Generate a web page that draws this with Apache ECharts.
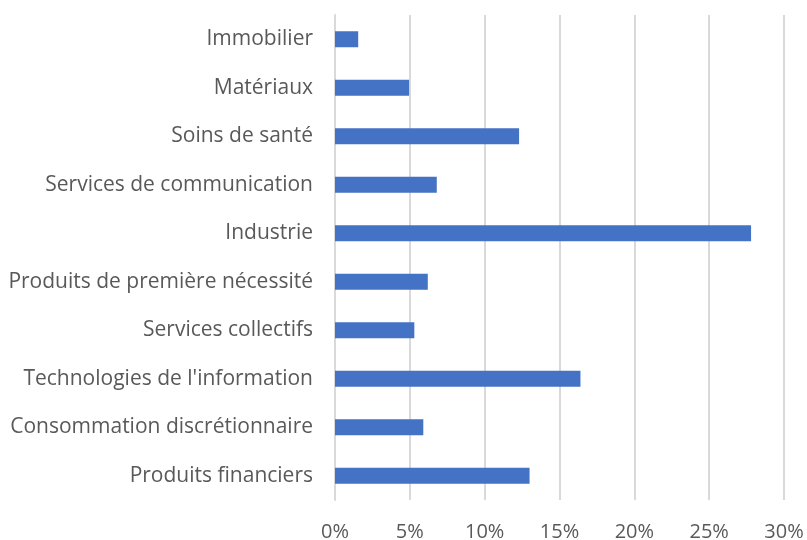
<!DOCTYPE html>
<html>
<head>
<meta charset="utf-8">
<script src="https://cdn.jsdelivr.net/npm/echarts@6/dist/echarts.min.js"></script>
<style>
  html, body { margin: 0; padding: 0; background: #ffffff; }
  #chart { width: 807px; height: 540px; }
</style>
</head>
<body>
<div id="chart"></div>
<script>
// top to bottom as shown in the picture
const sectors = [
  'Immobilier',
  'Matériaux',
  'Soins de santé',
  'Services de communication',
  'Industrie',
  'Produits de première nécessité',
  'Services collectifs',
  "Technologies de l'information",
  'Consommation discrétionnaire',
  'Produits financiers',
];
const weights = [1.55, 4.95, 12.3, 6.8, 27.8, 6.2, 5.3, 16.4, 5.9, 13.0];

const TEXT_COLOR = '#595959';
const GRID_COLOR = '#d9d9d9';
const BAR_COLOR = '#4472C4';
const FONT = 'Open Sans';

const chart = echarts.init(document.getElementById('chart'));

chart.setOption({
  animation: false,
  grid: {
    left: 335,
    right: 23,
    top: 15,
    bottom: 40,
    outerBoundsMode: 'none',
  },
  xAxis: {
    type: 'value',
    min: 0,
    max: 30,
    interval: 5,
    axisLine: { show: false },
    axisTick: { show: false },
    splitLine: { lineStyle: { color: GRID_COLOR, width: 2 } },
    axisLabel: {
      color: TEXT_COLOR,
      fontFamily: FONT,
      fontSize: 20,
      margin: 22,
      formatter: '{value}%',
    },
  },
  yAxis: {
    type: 'category',
    inverse: true,
    data: sectors,
    axisLine: { lineStyle: { color: GRID_COLOR, width: 2 } },
    axisTick: { show: false },
    axisLabel: {
      color: TEXT_COLOR,
      fontFamily: FONT,
      fontSize: 21,
      margin: 22,
    },
  },
  series: [
    {
      type: 'bar',
      data: weights,
      barWidth: 16,
      itemStyle: { color: BAR_COLOR },
    },
  ],
});
</script>
</body>
</html>
